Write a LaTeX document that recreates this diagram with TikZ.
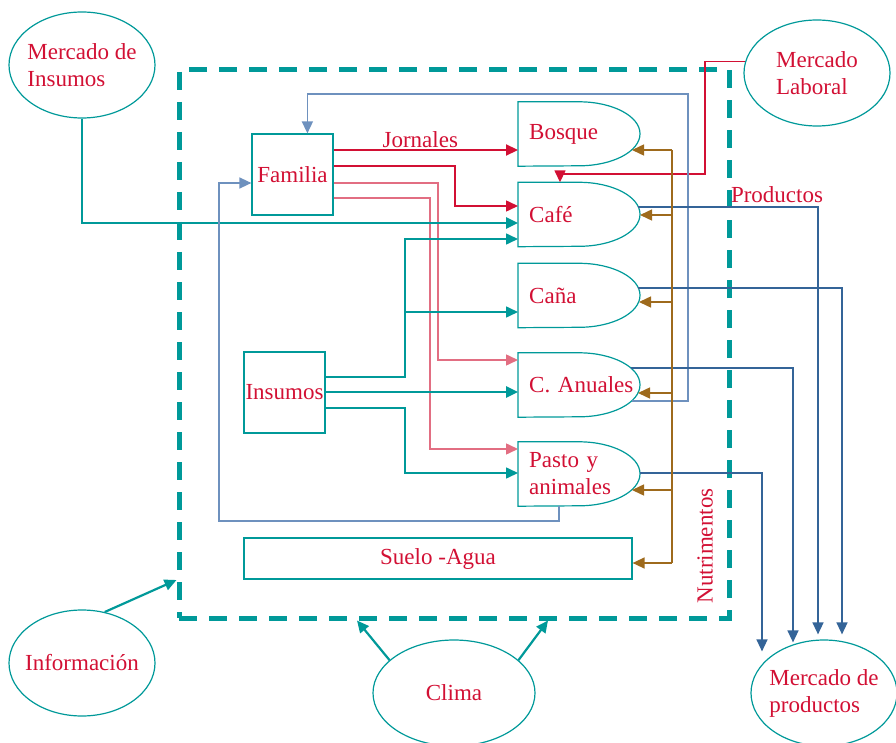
\documentclass[tikz,border=0pt]{standalone}
\usepackage{fontspec}
\setmainfont{Liberation Serif}
\usetikzlibrary{shapes.geometric,arrows.meta,calc}

\definecolor{verdeazul}{RGB}{0,153,153}
\definecolor{rojo}{RGB}{210,16,52}
\definecolor{rosa}{RGB}{226,110,130}
\definecolor{azul}{RGB}{52,100,152}
\definecolor{azulclaro}{RGB}{110,145,190}
\definecolor{marron}{RGB}{158,106,28}

\tikzset{
  flecha/.style={-{Triangle[length=12pt,width=11pt]}},
  lrojo/.style={draw=rojo,line width=1.5pt},
  lrosa/.style={draw=rosa,line width=1.5pt},
  lverde/.style={draw=verdeazul,line width=1.6pt},
  lazul/.style={draw=azul,line width=1.5pt},
  lnut/.style={draw=marron,line width=1.5pt},
  etiqueta/.style={text=rojo}
}

\begin{document}
\begin{tikzpicture}[x=1pt,y=-1pt,font=\fontsize{23}{27}\selectfont]
	\useasboundingbox (0,0) rectangle (896,743);

	\node[draw=verdeazul,line width=5pt,dash pattern=on 18pt off 12pt,
		minimum width=550pt,minimum height=548pt] (finca) at (454,344) {};

	\begin{scope}[every node/.style={ellipse,draw=verdeazul,line width=1.2pt,text=rojo,
			align=left,minimum width=146pt,minimum height=106pt,inner xsep=-8pt,inner ysep=0pt}]
		\node (insm) at (82,65) {Mercado de\\Insumos};
		\node (lab) at (817,73) {Mercado\\Laboral};
		\node (info) at (82,663) {Información};
		\node[minimum width=162pt] (clima) at (454,693) {Clima};
		\node (prod) at (824,693) {Mercado de\\productos};
	\end{scope}

	\begin{scope}[every node/.style={rectangle,draw=verdeazul,line width=1.2pt,text=rojo,inner sep=0pt}]
		\node[minimum size=81pt] (familia) at (292.5,174.5) {Familia};
		\node[minimum size=81pt] (insumos) at (284.5,392.5) {Insumos};
		\node[minimum width=388pt,minimum height=41pt] (suelo) at (438,558.5) {Suelo -Agua};
	\end{scope}

	\begin{scope}[every node/.style={anchor=west,minimum height=64pt,inner xsep=11pt,
			inner ysep=0pt,text=rojo,align=left,text width=110pt}]
		\node (bosque) at (518,134) {Bosque};
		\node (cafe) at (518,214.5) {Café};
		\node (cana) at (518,295.5) {Caña};
		\node (anuales) at (518,385) {C. Anuales};
		\node (pasto) at (518,474) {Pasto y\\animales};
	\end{scope}

	\foreach \n in {bosque,cafe,cana,anuales,pasto}
		\draw[verdeazul,line width=1.2pt] (\n.north west) -- ++(61,0)
			arc[start angle=-90,end angle=90,x radius=61,y radius=32] -- (\n.south west) -- cycle;

	\node[etiqueta] (productos) at (777,195) {Productos};
	\node[etiqueta,rotate=90] (nutri) at (705,546) {Nutrimentos};

	\begin{scope}
		\draw[lrojo,line width=2.2pt,flecha] (familia.east |- 0,150) -- node[etiqueta,above,inner sep=1pt,pos=0.47] (jornales) {Jornales} (bosque.west |- 0,150);
		\draw[lrojo,flecha] (familia.east |- 0,166) -| (455,206) -- (cafe.west |- 0,206);
		\draw[lrosa,flecha] (familia.east |- 0,183) -| (438,360) -- (anuales.west |- 0,360);
		\draw[lrosa,flecha] (familia.east |- 0,198) -| (430,449) -- (pasto.west |- 0,449);
		\draw[lrojo,flecha] (lab.171) -| (705,174) -| ($(cafe.north west)+(42,0)$);
	\end{scope}

	\begin{scope}
		\coordinate (ramal) at (405,312);
		\draw[lverde,line width=2.5pt,flecha] (insm.south) |- (cafe.west |- 0,223);
		\draw[lverde,flecha] (insumos.east |- 0,377) -| (405,239) -- (cafe.west |- 0,239);
		\draw[lverde,flecha] (ramal) -- (cana.west |- 0,312);
		\draw[lverde,line width=2.5pt,flecha] (insumos.east |- 0,392) -- (anuales.west |- 0,392);
		\draw[lverde,flecha] (insumos.east |- 0,408) -| (405,473) -- (pasto.west |- 0,473);
		\draw[lverde,line width=2.2pt,flecha] (info.66) -- (finca.west |- 0,580);
		\draw[lverde,line width=2.2pt,flecha] (clima.153) -- (finca.south -| 357,0);
		\draw[lverde,line width=2.2pt,flecha] (clima.27) -- (finca.south -| 548,0);
	\end{scope}

	\begin{scope}
		\draw[lazul,draw=azulclaro,flecha] ($(anuales.west)+(114,16)$) -| (688,94) -| ($(familia.north west)+(56,0)$);
		\draw[lazul,draw=azulclaro,flecha] ($(pasto.south west)+(41,0)$) |- (219,521) |- (familia.west |- 0,183);
		\draw[lazul,flecha] ($(cafe.west)+(120,-7.5)$) -| ($(prod.north)+(-6,-5)$);
		\draw[lazul,flecha] ($(cana.west)+(120,-7.5)$) -| ($(prod.north)+(18,-5)$);
		\draw[lazul,flecha] ($(anuales.west)+(113,-17)$) -| ($(prod.north)+(-31,3)$);
		\draw[lazul,flecha] ($(pasto.west)+(122,-1)$) -| ($(prod.north)+(-62,12)$);
	\end{scope}

	\begin{scope}
		\coordinate (nsup) at (672,150);
		\coordinate (ninf) at (672,563);
		\draw[lnut] (nsup) -- (ninf);
		\draw[lnut,flecha] (nsup) -- ($(bosque.west)+(114,16)$);
		\draw[lnut,flecha] (672,215) -- ($(cafe.west)+(122,0.5)$);
		\draw[lnut,flecha] (672,302) -- ($(cana.west)+(121,6.5)$);
		\draw[lnut,flecha] (672,393) -- ($(anuales.west)+(120,8)$);
		\draw[lnut,flecha] (672,490) -- ($(pasto.west)+(114,16)$);
		\draw[lnut,flecha] (ninf) -- (suelo.east |- ninf);
	\end{scope}
\end{tikzpicture}
\end{document}
